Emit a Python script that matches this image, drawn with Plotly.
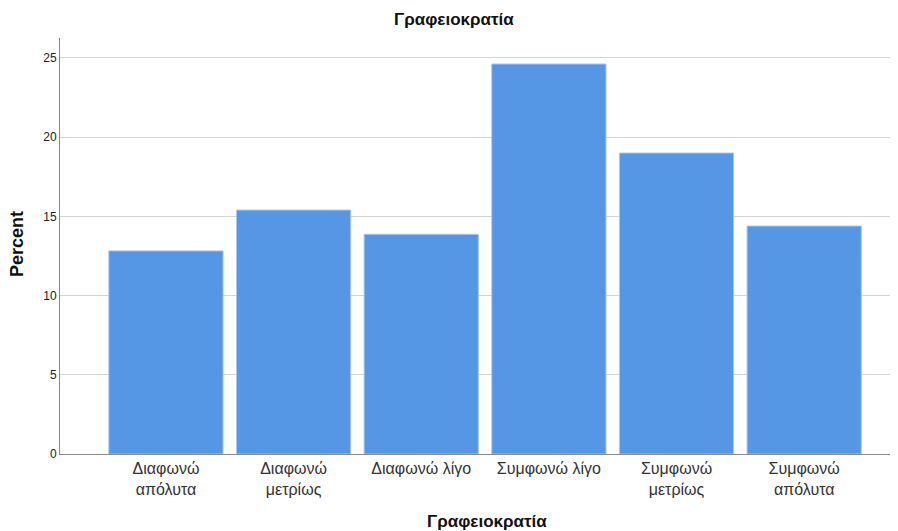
import plotly.graph_objects as go

categories = ["Διαφωνώ<br>απόλυτα", "Διαφωνώ<br>μετρίως", "Διαφωνώ λίγο",
              "Συμφωνώ λίγο", "Συμφωνώ<br>μετρίως", "Συμφωνώ<br>απόλυτα"]
percent = [12.82, 15.40, 13.87, 24.62, 19.00, 14.39]
y_ticks = [0, 5, 10, 15, 20, 25]

# page has an 8px body margin; figure is sized to fill the 898x531 window
OFF = 8
W, H = 898 - OFF, 531 - OFF
l, r, t, b = 60 - OFF, 0, 38 - OFF, 77
pw, ph = W - l - r, H - t - b

def px_to_paper(px, py):
    return (px - OFF - l) / pw, (H - b - (py - OFF)) / ph

fig = go.Figure(go.Bar(
    x=list(range(len(categories))), y=percent,
    marker=dict(color="#5596e5", line=dict(color="#a9c8f0", width=1)),
    width=0.895,
))

tx, ty = px_to_paper(454, 20)
bx, by = px_to_paper(487, 521)
px_, py_ = px_to_paper(17, 244)

fig.update_layout(
    width=W, height=H,
    margin=dict(l=l, r=r, t=t, b=b),
    plot_bgcolor="white", paper_bgcolor="white",
    font=dict(family="Liberation Sans, Arial, sans-serif", color="#222"),
    showlegend=False,
    xaxis=dict(
        tickmode="array", tickvals=list(range(len(categories))), ticktext=categories,
        range=[-0.83, 5.735], showgrid=False, zeroline=False,
        showline=True, linecolor="#888", linewidth=1,
        tickfont=dict(size=16, color="#333"), ticks="",
    ),
    yaxis=dict(
        range=[0, 26.26], tickvals=y_ticks, showgrid=True, gridcolor="#d4d4d4",
        zeroline=False, showline=True, linecolor="#888", linewidth=1,
        tickfont=dict(size=12, color="#222"), ticks="",
    ),
    annotations=[
        dict(text="<b>Γραφειοκρατία</b>", x=tx, y=ty, xref="paper", yref="paper",
             showarrow=False, font=dict(size=17, color="#111"),
             xanchor="center", yanchor="middle"),
        dict(text="<b>Γραφειοκρατία</b>", x=bx, y=by, xref="paper", yref="paper",
             showarrow=False, font=dict(size=17, color="#111"),
             xanchor="center", yanchor="middle"),
        dict(text="<b>Percent</b>", x=px_, y=py_, xref="paper", yref="paper",
             textangle=-90, showarrow=False, font=dict(size=18, color="#111"),
             xanchor="center", yanchor="middle"),
    ],
)

fig.write_html("out.html")
